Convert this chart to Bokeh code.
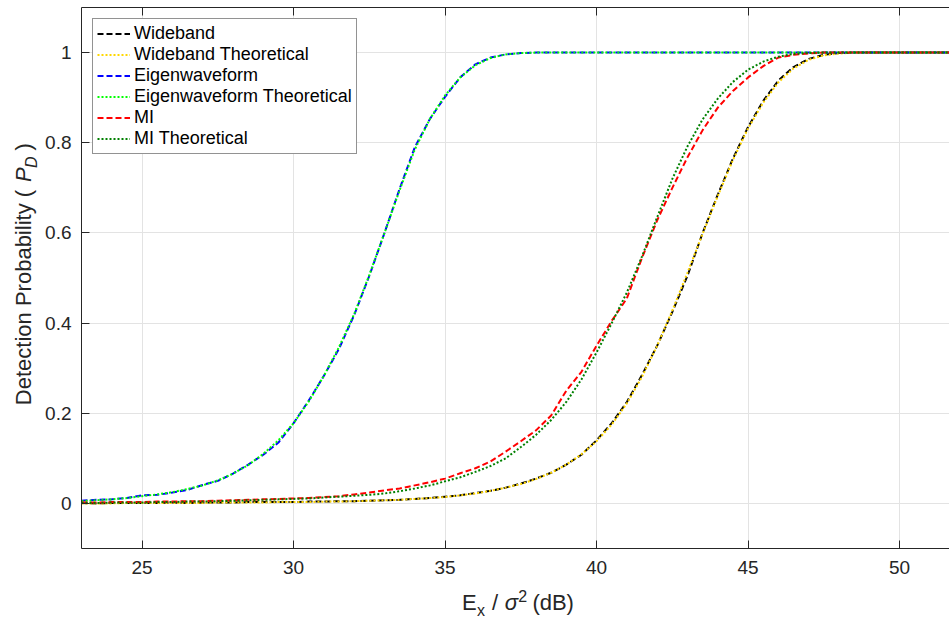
import math
from bokeh.plotting import figure
from bokeh.layouts import row, column
from bokeh.models import (Legend, LegendItem, LinearAxis, FixedTicker,
                          CustomJSTickFormatter, Label, Range1d)
from bokeh.embed import file_html
from bokeh.resources import INLINE

# ---------------- data ----------------
ex_db = [23.0, 23.5, 24.0, 24.5, 25.0, 25.5, 26.0, 26.5, 27.0, 27.5,
         28.0, 28.5, 29.0, 29.5, 30.0, 30.5, 31.0, 31.5, 32.0, 32.5,
         33.0, 33.5, 34.0, 34.5, 35.0, 35.5, 36.0, 36.5, 37.0, 37.5,
         38.0, 38.5, 39.0, 39.5, 40.0, 40.5, 41.0, 41.5, 42.0, 42.5,
         43.0, 43.5, 44.0, 44.5, 45.0, 45.5, 46.0, 46.5, 47.0, 47.5,
         48.0, 48.5, 49.0, 49.5, 50.0, 50.5, 51.0, 51.5, 52.0]

wideband = [0.001, 0.000, 0.001, 0.001, 0.001, 0.001, 0.002, 0.001, 0.002, 0.002,
            0.002, 0.003, 0.003, 0.003, 0.003, 0.004, 0.004, 0.005, 0.005, 0.006,
            0.007, 0.008, 0.010, 0.012, 0.015, 0.018, 0.023, 0.028, 0.035, 0.044,
            0.055, 0.068, 0.086, 0.108, 0.140, 0.178, 0.225, 0.285, 0.350, 0.425,
            0.505, 0.600, 0.685, 0.765, 0.835, 0.893, 0.938, 0.968, 0.986, 0.995,
            0.999, 1.0, 1.0, 1.0, 1.0, 1.0, 1.0, 1.0, 1.0]

wideband_theory = [0.000, 0.000, 0.000, 0.001, 0.001, 0.001, 0.001, 0.001, 0.001, 0.002,
                   0.002, 0.002, 0.002, 0.003, 0.003, 0.003, 0.004, 0.004, 0.005, 0.006,
                   0.007, 0.008, 0.010, 0.012, 0.014, 0.018, 0.022, 0.028, 0.035, 0.043,
                   0.054, 0.068, 0.086, 0.109, 0.138, 0.175, 0.222, 0.281, 0.350, 0.428,
                   0.512, 0.598, 0.682, 0.762, 0.832, 0.889, 0.934, 0.965, 0.984, 0.994,
                   0.998, 1.0, 1.0, 1.0, 1.0, 1.0, 1.0, 1.0, 1.0]

eigen = [0.006, 0.008, 0.009, 0.012, 0.018, 0.019, 0.024, 0.030, 0.041, 0.050,
         0.066, 0.086, 0.108, 0.135, 0.178, 0.228, 0.283, 0.343, 0.418, 0.505,
         0.600, 0.698, 0.790, 0.853, 0.902, 0.945, 0.974, 0.989, 0.996, 0.999,
         1.0, 1.0, 1.0, 1.0, 1.0, 1.0, 1.0, 1.0, 1.0, 1.0,
         1.0, 1.0, 1.0, 1.0, 1.0, 1.0, 1.0, 1.0, 1.0, 1.0,
         1.0, 1.0, 1.0, 1.0, 1.0, 1.0, 1.0, 1.0, 1.0]

eigen_theory = [0.005, 0.007, 0.009, 0.012, 0.016, 0.020, 0.025, 0.032, 0.040, 0.051,
                0.066, 0.085, 0.110, 0.140, 0.178, 0.226, 0.283, 0.347, 0.420, 0.507,
                0.600, 0.695, 0.785, 0.853, 0.905, 0.945, 0.972, 0.988, 0.996, 0.999,
                1.0, 1.0, 1.0, 1.0, 1.0, 1.0, 1.0, 1.0, 1.0, 1.0,
                1.0, 1.0, 1.0, 1.0, 1.0, 1.0, 1.0, 1.0, 1.0, 1.0,
                1.0, 1.0, 1.0, 1.0, 1.0, 1.0, 1.0, 1.0, 1.0]

mi = [0.002, 0.002, 0.003, 0.003, 0.003, 0.004, 0.004, 0.005, 0.005, 0.006,
      0.007, 0.008, 0.009, 0.010, 0.011, 0.012, 0.014, 0.016, 0.020, 0.024,
      0.029, 0.033, 0.040, 0.047, 0.055, 0.067, 0.078, 0.093, 0.115, 0.138,
      0.162, 0.195, 0.250, 0.292, 0.350, 0.405, 0.455, 0.545, 0.628, 0.700,
      0.768, 0.828, 0.878, 0.915, 0.945, 0.970, 0.989, 0.995, 0.998, 1.0,
      1.0, 1.0, 1.0, 1.0, 1.0, 1.0, 1.0, 1.0, 1.0]

mi_theory = [0.001, 0.001, 0.002, 0.002, 0.002, 0.003, 0.003, 0.004, 0.004, 0.005,
             0.006, 0.007, 0.008, 0.009, 0.010, 0.011, 0.013, 0.015, 0.017, 0.019,
             0.022, 0.027, 0.033, 0.040, 0.049, 0.058, 0.070, 0.083, 0.100, 0.125,
             0.152, 0.185, 0.225, 0.275, 0.335, 0.400, 0.468, 0.548, 0.635, 0.720,
             0.792, 0.852, 0.898, 0.935, 0.962, 0.980, 0.991, 0.997, 0.999, 1.0,
             1.0, 1.0, 1.0, 1.0, 1.0, 1.0, 1.0, 1.0, 1.0]

series_names = ["Wideband", "Wideband Theoretical", "Eigenwaveform",
                "Eigenwaveform Theoretical", "MI", "MI Theoretical"]
series_values = [wideband, wideband_theory, eigen, eigen_theory, mi, mi_theory]

x_ticks = [25, 30, 35, 40, 45, 50]
y_ticks = [0, 0.2, 0.4, 0.6, 0.8, 1]

# ---------------- styling ----------------
colors = ["#000000", "#FFD700", "#0000FF", "#00FF00", "#FF0000", "#008000"]
dashes = ["6 3", "2 2", "6 3", "2 2", "6 3", "2 2"]
FONT = "Liberation Sans"
AX = "#262626"

W, H = 949, 619
YLAB_W = 40               # width of the y-title strip
MAIN_H = 585              # height of the main plot canvas
FL, FB, FT = 81, 548, 7   # frame left / bottom / top in window px
px_per_unit = 30.3

p = figure(width=W - YLAB_W, height=MAIN_H, output_backend="svg", toolbar_location=None,
           x_range=Range1d(23, 23 + (W - FL) / px_per_unit),
           y_range=Range1d(-0.1, 1.1),
           min_border_left=FL - YLAB_W, min_border_right=0, min_border_top=FT,
           min_border_bottom=MAIN_H - FB)
p.background_fill_color = "white"
p.border_fill_color = "white"
p.outline_line_color = None

renderers = []
for name, vals, c, d in zip(series_names, series_values, colors, dashes):
    r = p.line(ex_db, vals, line_color=c, line_width=2, line_dash=d)
    renderers.append(r)

for ax in (p.xaxis[0], p.yaxis[0]):
    ax.axis_line_color = AX
    ax.major_tick_line_color = AX
    ax.major_tick_in = 8
    ax.major_tick_out = 0
    ax.minor_tick_line_color = None
    ax.major_label_text_font = FONT
    ax.major_label_text_font_size = "19px"
    ax.major_label_text_color = AX
p.xaxis.major_label_standoff = 12
p.yaxis.major_label_standoff = 10

p.xaxis.ticker = FixedTicker(ticks=x_ticks)
p.yaxis.ticker = FixedTicker(ticks=y_ticks)
p.yaxis.formatter = CustomJSTickFormatter(code="return String(Math.round(tick*10)/10);")

top = LinearAxis(ticker=FixedTicker(ticks=x_ticks), major_label_text_font_size="1px",
                 major_label_text_color=None, major_label_standoff=0,
                 major_tick_in=8, major_tick_out=0,
                 axis_line_color=AX, major_tick_line_color=AX,
                 minor_tick_line_color=None)
p.add_layout(top, "above")

p.xgrid.ticker = FixedTicker(ticks=x_ticks)
p.ygrid.ticker = FixedTicker(ticks=y_ticks)
p.xgrid.grid_line_color = "#E3E3E3"
p.ygrid.grid_line_color = "#E3E3E3"

legend = Legend(items=[LegendItem(label=n, renderers=[r]) for n, r in zip(series_names, renderers)],
                location="top_left", margin=11, padding=4, spacing=0,
                glyph_width=33, glyph_height=21, label_height=21, label_standoff=4,
                label_text_font=FONT, label_text_font_size="18px", label_text_color="black",
                border_line_color="#262626", border_line_width=1,
                background_fill_color="white", background_fill_alpha=1.0)
p.add_layout(legend)


# ---------------- axis titles (with sub/superscripts) in side strips ----------------
def strip(width, height):
    f = figure(width=width, height=height, output_backend="svg", toolbar_location=None,
               x_range=Range1d(0, width), y_range=Range1d(0, height),
               x_axis_type=None, y_axis_type=None,
               min_border_left=0, min_border_right=0, min_border_top=0, min_border_bottom=0)
    f.outline_line_color = None
    f.background_fill_color = "white"
    f.border_fill_color = "white"
    for g in f.grid:
        g.visible = False
    return f


EM = {'E': .667, 'x': .5, ' ': .278, '/': .278, 'σ': .60, '2': .556, '(': .333,
      'd': .556, 'B': .667, ')': .333, 'D': .722, 'e': .556, 't': .278, 'c': .5,
      'i': .222, 'o': .556, 'n': .556, 'P': .667, 'r': .333, 'b': .556, 'a': .556,
      'l': .222, 'y': .5}


def tw(s, size):
    return sum(EM.get(ch, .55) for ch in s) * size


def add_label(f, x, y, text, size, style, angle=0.0):
    # anchored at the centre of the text box
    f.add_layout(Label(x=x, y=y, text=text, text_font=FONT, text_font_size=f"{size}px",
                       text_font_style=style, text_color=AX, angle=angle,
                       text_align="center", text_baseline="middle"))


BIG, SMALL = 22, 16
MID_BIG, MID_SMALL = 7.6, 5.5      # baseline -> middle of text box
GAP = 7                           # width of a space between pieces
CORR = 0.055                      # centring correction, fraction of piece width

# y title strip: occupies window x 0..YLAB_W, y 0..MAIN_H
ylab = strip(YLAB_W, MAIN_H)
ypieces = [("Detection Probability (", BIG, 0, "normal"), ("", 0, 0, None),
           ("P", BIG, 0, "italic"), ("D", SMALL, 5, "italic"), ("", 0, 0, None),
           (")", BIG, 0, "normal")]


def pw(t, s):
    return GAP if t == "" else tw(t, s)


total = sum(pw(t, s) for t, s, _, _ in ypieces)
cy = 278 + total / 2
Y_BASE = 31
for t, s, dx, st in ypieces:
    wdt = pw(t, s)
    if st is not None:
        mid = MID_BIG if s == BIG else MID_SMALL
        centre = cy - wdt / 2 + CORR * wdt
        add_label(ylab, Y_BASE + dx - mid, MAIN_H - centre, t, s, st, angle=math.pi / 2)
    cy -= wdt

# x title strip: occupies window x 0..W, y MAIN_H..H
XH = H - MAIN_H
xlab = strip(W, XH)
xpieces = [("E", BIG, 0, "normal"), ("x", SMALL, 5, "normal"), ("", 0, 0, None),
           ("/", BIG, 0, "normal"), ("", 0, 0, None), ("σ", BIG, 0, "italic"),
           ("2", SMALL, -9, "normal"), ("", 0, 0, None), ("(dB)", BIG, 0, "normal")]
total = sum(pw(t, s) for t, s, _, _ in xpieces)
cx = 519 - total / 2
X_BASE = 610
for t, s, dy, st in xpieces:
    wdt = pw(t, s)
    if st is not None:
        mid = MID_BIG if s == BIG else MID_SMALL
        add_label(xlab, cx + wdt / 2 - CORR * wdt, H - (X_BASE + dy - mid), t, s, st)
    cx += wdt

layout = column(row(ylab, p, spacing=0), xlab, spacing=0)

open("out.html", "w").write(file_html(layout, INLINE))
